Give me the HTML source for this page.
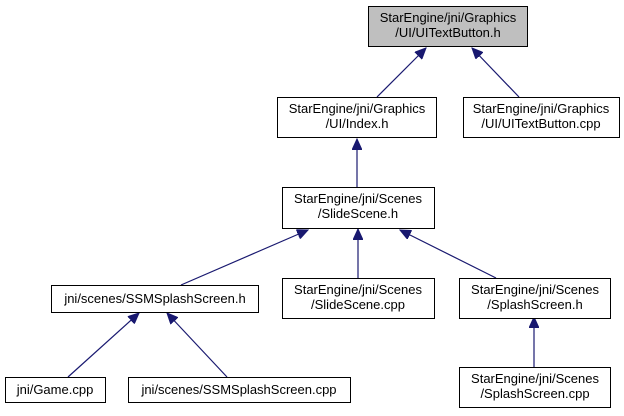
<!DOCTYPE html>
<html><head><meta charset="utf-8"><style>
html,body{margin:0;padding:0;background:#fff;}
svg{display:block;}
text{font-family:"Liberation Sans",Arial,sans-serif;font-size:13px;fill:#000;}
</style></head><body>
<svg width="624" height="416" viewBox="0 0 624 416" xmlns="http://www.w3.org/2000/svg">
<defs>
<marker id="a" markerWidth="12" markerHeight="10" refX="11" refY="5" orient="auto" markerUnits="userSpaceOnUse">
<path d="M0,0 L11,5 L0,10 Z" fill="#191970" stroke="#191970"/>
</marker>
</defs>
<g stroke="#191970" stroke-width="1.2" fill="none">
<line x1="377" y1="97" x2="426" y2="48" marker-end="url(#a)"/>
<line x1="519" y1="97" x2="472" y2="48" marker-end="url(#a)"/>
<line x1="357" y1="187" x2="357" y2="139" marker-end="url(#a)"/>
<line x1="181" y1="285" x2="308" y2="230" marker-end="url(#a)"/>
<line x1="358" y1="278" x2="358" y2="229" marker-end="url(#a)"/>
<line x1="496" y1="278" x2="400" y2="230" marker-end="url(#a)"/>
<line x1="534" y1="367" x2="534" y2="317" marker-end="url(#a)"/>
<line x1="68" y1="377" x2="139" y2="313" marker-end="url(#a)"/>
<line x1="227" y1="377" x2="167" y2="313" marker-end="url(#a)"/>
</g>
<g stroke="#000" stroke-width="1">
<rect x="368.5" y="6.5" width="159" height="40" fill="#bfbfbf"/>
<rect x="277.5" y="97.5" width="159" height="40" fill="#fff"/>
<rect x="463.5" y="97.5" width="156" height="40" fill="#fff"/>
<rect x="282.5" y="187.5" width="152" height="41" fill="#fff"/>
<rect x="51.5" y="285.5" width="207" height="27" fill="#fff"/>
<rect x="282.5" y="278.5" width="152" height="40" fill="#fff"/>
<rect x="459.5" y="278.5" width="151" height="40" fill="#fff"/>
<rect x="5.5" y="377.5" width="100" height="25" fill="#fff"/>
<rect x="128.5" y="377.5" width="222" height="25" fill="#fff"/>
<rect x="459.5" y="367.5" width="151" height="40" fill="#fff"/>
</g>
<g text-anchor="middle">
<text x="448" y="22">StarEngine/jni/Graphics</text>
<text x="448" y="37">/UI/UITextButton.h</text>
<text x="357" y="113">StarEngine/jni/Graphics</text>
<text x="357" y="128">/UI/Index.h</text>
<text x="541" y="113">StarEngine/jni/Graphics</text>
<text x="541" y="128">/UI/UITextButton.cpp</text>
<text x="358" y="203">StarEngine/jni/Scenes</text>
<text x="358" y="218">/SlideScene.h</text>
<text x="155" y="303">jni/scenes/SSMSplashScreen.h</text>
<text x="358" y="294">StarEngine/jni/Scenes</text>
<text x="358" y="309">/SlideScene.cpp</text>
<text x="535" y="294">StarEngine/jni/Scenes</text>
<text x="535" y="309">/SplashScreen.h</text>
<text x="55" y="394">jni/Game.cpp</text>
<text x="239" y="394">jni/scenes/SSMSplashScreen.cpp</text>
<text x="535" y="383">StarEngine/jni/Scenes</text>
<text x="535" y="398">/SplashScreen.cpp</text>
</g>
</svg>
</body></html>
